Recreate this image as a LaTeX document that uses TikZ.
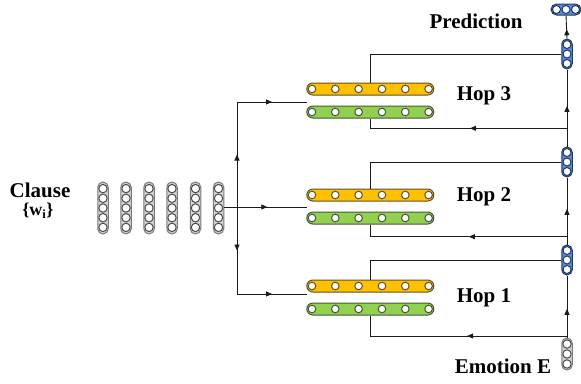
\documentclass[tikz,border=0pt]{standalone}
\usepackage{fontspec}
\setmainfont{Liberation Serif}
\usetikzlibrary{arrows.meta,decorations.markings}
\definecolor{ofill}{HTML}{FFC000}
\definecolor{oline}{HTML}{5E5028}
\definecolor{gfill}{HTML}{92D050}
\definecolor{gline}{HTML}{45573A}
\definecolor{bfill}{HTML}{5B8BD6}
\definecolor{bline}{HTML}{1F3864}
\definecolor{kfill}{HTML}{D4D4D4}
\definecolor{kline}{HTML}{7A7A7A}
\definecolor{kdot}{HTML}{4A4A4A}
\definecolor{wire}{HTML}{1A1A1A}
\tikzset{
  lbl/.style={font=\fontsize{21}{24}\selectfont\bfseries, inner sep=0},
  sublbl/.style={font=\fontsize{18}{20}\selectfont\bfseries, inner sep=0},
  capsule/.style={line width=1pt, inner sep=0},
  hopbox/.style={capsule, minimum width=127pt, minimum height=12pt, rounded corners=6pt},
  orangebox/.style={hopbox, draw=oline, fill=ofill},
  greenbox/.style={hopbox, draw=gline, fill=gfill},
  wordbox/.style={capsule, draw=kline, fill=kfill, minimum width=10.5pt, minimum height=52pt, rounded corners=5.25pt},
  emobox/.style={capsule, draw=kline, fill=kfill, minimum width=10.5pt, minimum height=32pt, rounded corners=5.25pt},
  bluebox/.style={capsule, draw=bline, fill=bfill, minimum width=10.5pt, minimum height=30pt, rounded corners=5.25pt},
  predbox/.style={capsule, draw=bline, fill=bfill, minimum width=30pt, minimum height=11pt, rounded corners=5.5pt},
  dot/.style={circle, fill=white, inner sep=0, line width=1pt, minimum size=7.6pt},
  odot/.style={dot, draw=oline},
  gdot/.style={dot, draw=gline},
  bdot/.style={dot, draw=bline, minimum size=8pt},
  kdotst/.style={dot, draw=kdot, minimum size=8.4pt},
  wireline/.style={draw=wire, line width=0.9pt},
  arr/.style={wireline, postaction={decorate}, decoration={markings, mark=at position #1 with {\arrow{Triangle[length=6pt,width=5pt]}}}}
}
\begin{document}
\begin{tikzpicture}[x=1pt,y=-1pt]
\useasboundingbox (0,0) rectangle (581,383);

% labels
\node[lbl] (clause) at (40,190) {Clause};
\node[sublbl] (wi) at (38,211) {\{w\textsubscript{i}\}};
\node[lbl] (pred) at (476,21) {Prediction};
\node[lbl] (hop3) at (484,96) {Hop 3};
\node[lbl] (hop2) at (484,197) {Hop 2};
\node[lbl] (hop1) at (484,298) {Hop 1};
\node[lbl] (emolbl) at (503,366) {Emotion E};

% word vectors
\foreach \i/\x in {1/103,2/126,3/149,4/172,5/195.5,6/218.5}{
  \node[wordbox] (w\i) at (\x,208) {};
  \foreach \d in {-19.4,-9.7,0,9.7,19.4}
    \node[kdotst] at ([yshift=\d pt]w\i.center) {};
}

% hop memories
\foreach \h/\yo/\yg in {1/286/309, 2/195/218, 3/89/112}{
  \node[orangebox] (h\h o) at (370.3,\yo) {};
  \node[greenbox] (h\h g) at (370.3,\yg) {};
  \foreach \d in {-58.3,-35,-11.7,11.7,35,58.3}{
    \node[odot] at ([xshift=\d pt]h\h o.center) {};
    \node[gdot] at ([xshift=\d pt]h\h g.center) {};
  }
}

% output vectors
\foreach \n/\y in {b1/260, b2/162, b3/54}{
  \node[bluebox] (\n) at (567,\y) {};
  \foreach \d in {-9.5,0,9.5}
    \node[bdot] at ([yshift=\d pt]\n.center) {};
}
\node[predbox] (pv) at (566,9.5) {};
\foreach \d in {-9.5,0,9.5}
  \node[bdot] at ([xshift=\d pt]pv.center) {};
\node[emobox] (emo) at (567,354) {};
\foreach \d in {-10,0,10}
  \node[kdotst] at ([yshift=\d pt]emo.center) {};

% input distribution
\coordinate (split) at (237,207);
\coordinate (in1) at (307,294);
\coordinate (in2) at (307,207);
\coordinate (in3) at (307,102);
\coordinate (v1) at (237,294);
\coordinate (v3) at (237,102);
\draw[arr=0.52] (w6.east |- split) -- (in2);
\draw[arr=0.5] (split) -- (v3);
\draw[arr=0.5] (v3) -- (in3);
\draw[arr=0.5] (split) -- (v1);
\draw[arr=0.5] (v1) -- (in1);

% right column
\coordinate (f1) at (567,336);
\coordinate (f2) at (567,236.7);
\coordinate (f3) at (567,128.3);
\draw[wireline] (emo.north) -- (f1);
\draw[arr=0.45] (f1) -- (b1.south);
\draw[arr=0.46] (f1) -| (h1g.south);
\draw[wireline] (h1o.north) |- (b1.west);

\draw[wireline] (b1.north) -- (f2);
\draw[arr=0.47] (f2) -- (b2.south);
\draw[arr=0.47] (f2) -| (h2g.south);
\draw[wireline] (h2o.north) |- (b2.west);

\draw[wireline] (b2.north) -- (f3);
\draw[arr=0.38] (f3) -- (b3.south);
\draw[arr=0.47] (f3) -| (h3g.south);
\draw[wireline] (h3o.north) |- (b3.west);

\draw[arr=0.4] (b3.north) -- (pv.south);
\end{tikzpicture}
\end{document}
